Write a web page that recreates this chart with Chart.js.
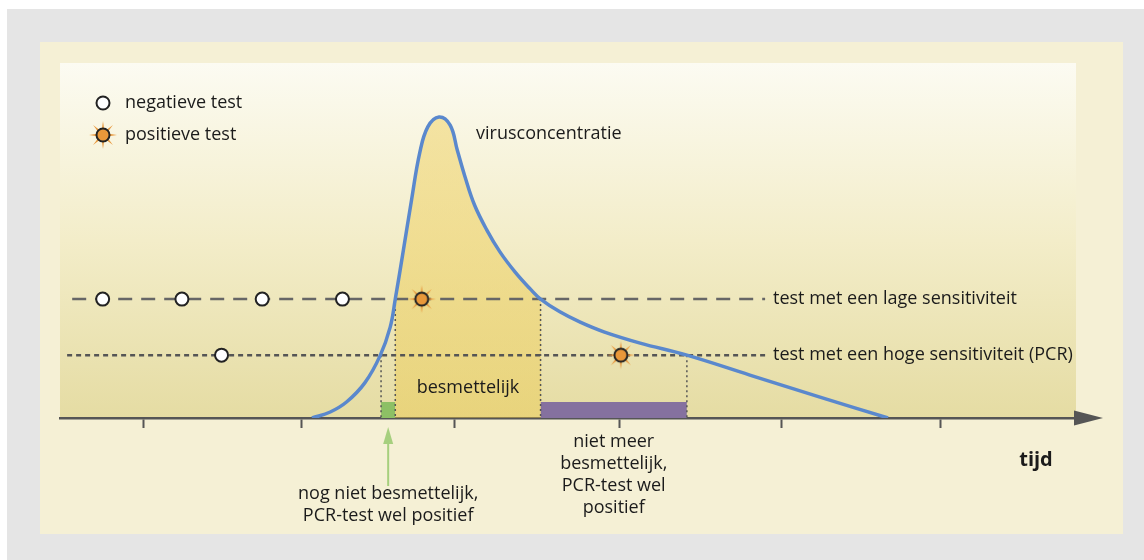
<!DOCTYPE html>
<html>
<head>
<meta charset="utf-8">
<script src="https://cdn.jsdelivr.net/npm/chart.js@4/dist/chart.umd.min.js"></script>
<style>
  html, body { margin: 0; padding: 0; background: #ffffff; }
  #wrap { position: absolute; left: 0; top: 0; width: 1144px; height: 560px; }
</style>
</head>
<body>
<div id="wrap"><canvas id="chart" width="1144" height="560"></canvas></div>
<script>
// tijd (0-100) en virusconcentratie (0-100)
const curveTime  = [24.8, 26.6, 28.2, 30.0, 31.5, 32.5, 33.0, 33.8, 34.6, 35.4, 36.2, 37.3, 38.4, 39.1, 39.9, 40.8, 42.0, 43.3, 44.8, 46.3, 47.3, 49.2, 51.2, 53.6, 57.1, 61.7, 67.9, 74.8, 81.5];
const curveLevel = [0, 1.7, 4.5, 9.9, 17.5, 25.6, 33.5, 47.3, 61.4, 74.6, 82.0, 84.8, 82.5, 75.5, 67.6, 60.0, 53.0, 46.8, 41.1, 36.3, 33.5, 29.9, 27.0, 24.2, 21.1, 17.7, 12.1, 5.9, 0];

// detectiegrenzen van de twee testen
const lowSensLevel  = 33.5;
const highSensLevel = 17.7;
const testLineStart = [1.2, 0.7];
const testLineEnd   = [69.4, 69.4];

// testmomenten
const lowSensNegative  = [4.2, 12.0, 19.9, 27.8];
const lowSensPositive  = [35.6];
const highSensNegative = [15.9];
const highSensPositive = [55.2];

// periodes
const pcrStart = 31.6;
const infectiousStart = 33.0;
const infectiousEnd = 47.3;
const pcrEnd = 61.7;
const barLevel = 4.5;

// streepjes op de tijdas (zonder labels)
const tickTimes = [8.2, 23.8, 38.8, 55.1, 71.0, 86.7];

const FONT = '"Open Sans", sans-serif';
const TEXT = '#1b1b1b';

const curveData = curveTime.map((t, i) => ({x: t, y: curveLevel[i]}));
const pts = (times, level) => times.map(t => ({x: t, y: level}));

// oranje "ster" marker voor positieve test
const makeStar = () => {
  const c = document.createElement('canvas');
  c.width = 30; c.height = 30;
  const g = c.getContext('2d');
  g.translate(15, 15);
  g.fillStyle = '#e8983c';
  for (let k = 0; k < 8; k++) {
    g.save();
    g.rotate(k * Math.PI / 4);
    g.beginPath();
    g.moveTo(-1.4, -4);
    g.lineTo(0, -14);
    g.lineTo(1.4, -4);
    g.closePath();
    g.fill();
    g.restore();
  }
  g.beginPath();
  g.arc(0, 0, 6.5, 0, Math.PI * 2);
  g.fillStyle = '#e9983a';
  g.fill();
  g.lineWidth = 2;
  g.strokeStyle = '#222';
  g.stroke();
  return c;
};
const star = makeStar();

const vline = (t, level) => ({
  data: [{x: t, y: level}, {x: t, y: 0}],
  borderColor: '#555', borderWidth: 1.5, borderDash: [2, 3],
  pointRadius: 0, fill: false
});

const rect = (t1, t2, color) => ({
  data: [{x: t1, y: barLevel}, {x: t2, y: barLevel}],
  borderWidth: 0, pointRadius: 0, backgroundColor: color, fill: 'origin'
});

const backgroundPlugin = {
  id: 'achtergrond',
  beforeDraw: (chart) => {
    const ctx = chart.ctx;
    const a = chart.chartArea;
    ctx.save();
    ctx.fillStyle = '#ffffff';
    ctx.fillRect(0, 0, 1144, 560);
    ctx.fillStyle = '#e5e5e5';
    ctx.fillRect(7, 9, 1137, 551);
    ctx.fillStyle = '#f5f0d5';
    ctx.fillRect(40, 42, 1083, 492);
    const grad = ctx.createLinearGradient(0, a.top, 0, a.bottom);
    grad.addColorStop(0, '#fcfbf2');
    grad.addColorStop(0.5, '#f3edc9');
    grad.addColorStop(1, '#e5dca3');
    ctx.fillStyle = grad;
    ctx.fillRect(a.left, a.top, a.right - a.left, a.bottom - a.top);
    ctx.restore();
  }
};

const textPlugin = {
  id: 'teksten',
  afterDraw: (chart) => {
    const ctx = chart.ctx;
    const a = chart.chartArea;
    const xs = chart.scales.x, ys = chart.scales.y;
    ctx.save();

    // pijlpunt van de tijdas
    ctx.fillStyle = '#555';
    ctx.beginPath();
    ctx.moveTo(a.right - 2, a.bottom - 7.5);
    ctx.lineTo(a.right + 27, a.bottom);
    ctx.lineTo(a.right - 2, a.bottom + 7.5);
    ctx.closePath();
    ctx.fill();

    // groene pijl
    const gx = xs.getPixelForValue((pcrStart + infectiousStart) / 2);
    ctx.strokeStyle = '#a6cf7e';
    ctx.fillStyle = '#a6cf7e';
    ctx.lineWidth = 2;
    ctx.beginPath();
    ctx.moveTo(gx, 486);
    ctx.lineTo(gx, 440);
    ctx.stroke();
    ctx.beginPath();
    ctx.moveTo(gx - 5, 444);
    ctx.lineTo(gx, 427);
    ctx.lineTo(gx + 5, 444);
    ctx.closePath();
    ctx.fill();

    ctx.textBaseline = 'middle';
    ctx.font = '18px ' + FONT;

    // legenda
    ctx.beginPath();
    ctx.arc(103, 103, 6.5, 0, Math.PI * 2);
    ctx.fillStyle = '#ffffff';
    ctx.fill();
    ctx.lineWidth = 2;
    ctx.strokeStyle = '#222';
    ctx.stroke();
    ctx.drawImage(star, 103 - 15, 135 - 15);
    ctx.fillStyle = TEXT;
    ctx.textAlign = 'left';
    ctx.fillText('negatieve test', 125, 103);
    ctx.fillText('positieve test', 125, 135);

    ctx.fillText('virusconcentratie', 476, 134);
    ctx.fillText('test met een lage sensitiviteit', 773, ys.getPixelForValue(lowSensLevel));
    ctx.fillText('test met een hoge sensitiviteit (PCR)', 773, ys.getPixelForValue(highSensLevel));

    ctx.textAlign = 'center';
    ctx.fillText('besmettelijk', xs.getPixelForValue((infectiousStart + infectiousEnd) / 2), 388);
    ctx.fillText('nog niet besmettelijk,', gx, 494);
    ctx.fillText('PCR-test wel positief', gx, 516);
    const px = xs.getPixelForValue((infectiousEnd + pcrEnd) / 2);
    ['niet meer', 'besmettelijk,', 'PCR-test wel', 'positief'].forEach((s, i) => {
      ctx.fillText(s, px, 442 + i * 22);
    });

    ctx.font = 'bold 20px ' + FONT;
    ctx.fillText('tijd', 1036, 460);
    ctx.restore();
  }
};

new Chart(document.getElementById('chart'), {
  type: 'line',
  data: {
    datasets: [
      // markers bovenop
      {data: pts(lowSensNegative, lowSensLevel).concat(pts(highSensNegative, highSensLevel)),
       showLine: false, pointStyle: 'circle', pointRadius: 6.5, pointBorderWidth: 2,
       pointBorderColor: '#222', pointBackgroundColor: '#ffffff'},
      {data: pts(lowSensPositive, lowSensLevel).concat(pts(highSensPositive, highSensLevel)),
       showLine: false, pointStyle: star, pointRadius: 15},
      // virusconcentratie
      {data: curveData, borderColor: '#5a88cd', borderWidth: 3.5, pointRadius: 0,
       tension: 0.4, fill: false},
      // testlijnen
      {data: [{x: testLineStart[0], y: lowSensLevel}, {x: testLineEnd[0], y: lowSensLevel}],
       borderColor: '#666', borderWidth: 2.5, borderDash: [14, 9], pointRadius: 0, fill: false},
      {data: [{x: testLineStart[1], y: highSensLevel}, {x: testLineEnd[1], y: highSensLevel}],
       borderColor: '#555', borderWidth: 2.5, borderDash: [5, 4], pointRadius: 0, fill: false},
      vline(pcrStart, highSensLevel),
      vline(infectiousStart, lowSensLevel),
      vline(infectiousEnd, lowSensLevel),
      vline(pcrEnd, highSensLevel),
      rect(pcrStart, infectiousStart, '#8dc065'),
      rect(infectiousEnd, pcrEnd, '#85719f'),
      // besmettelijke periode: vlak onder de curve
      {data: curveData, borderWidth: 0, pointRadius: 0, tension: 0.4,
       fill: 'origin',
       backgroundColor: (c) => {
         const {chartArea, scales} = c.chart;
         if (!chartArea) return 'rgba(0,0,0,0)';
         const w = chartArea.right - chartArea.left;
         const p1 = (scales.x.getPixelForValue(infectiousStart) - chartArea.left) / w;
         const p2 = (scales.x.getPixelForValue(infectiousEnd) - chartArea.left) / w;
         const g = c.chart.ctx.createLinearGradient(chartArea.left, 0, chartArea.right, 0);
         const col = 'rgba(236, 200, 70, 0.42)';
         g.addColorStop(0, 'rgba(0,0,0,0)');
         g.addColorStop(p1, 'rgba(0,0,0,0)');
         g.addColorStop(p1, col);
         g.addColorStop(p2, col);
         g.addColorStop(p2, 'rgba(0,0,0,0)');
         g.addColorStop(1, 'rgba(0,0,0,0)');
         return g;
       }}
    ]
  },
  options: {
    responsive: false,
    animation: false,
    layout: {padding: {left: 60, top: 63, right: 68, bottom: 132}},
    scales: {
      x: {
        type: 'linear', min: 0, max: 100,
        afterBuildTicks: (axis) => { axis.ticks = tickTimes.map(v => ({value: v})); },
        afterFit: (axis) => { axis.height = 10; },
        ticks: {display: false},
        grid: {drawOnChartArea: false, drawTicks: true, tickLength: 10, tickColor: '#555', tickWidth: 2},
        border: {display: true, color: '#555', width: 2.5}
      },
      y: {min: 0, max: 100, display: false}
    },
    plugins: {legend: {display: false}, tooltip: {enabled: false}}
  },
  plugins: [backgroundPlugin, textPlugin]
});
</script>
</body>
</html>
